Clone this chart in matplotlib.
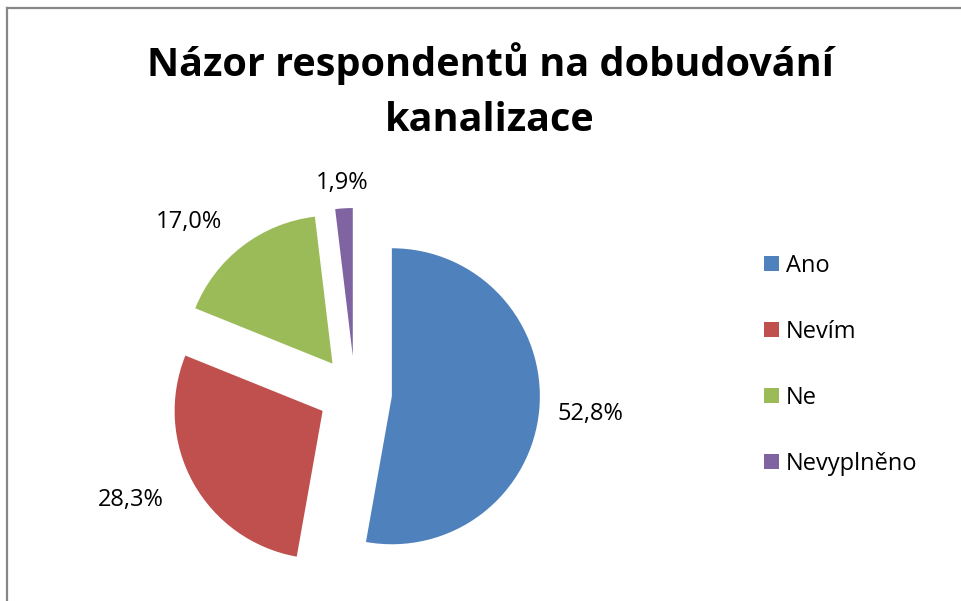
import numpy as np
import matplotlib
matplotlib.use("Agg")
import matplotlib.pyplot as plt
from matplotlib.lines import Line2D

kategorie = ["Ano", "Nevím", "Ne", "Nevyplněno"]
podil = [52.8, 28.3, 17.0, 1.9]
barvy = ["#4F81BD", "#C0504D", "#9BBB59", "#8064A2"]
popisky = ["52,8%", "28,3%", "17,0%", "1,9%"]
# vzdalenost popisku od stredu vysece (v polomerech) a posun uhlu (stupne, po smeru hodin)
vzdal_popisku = [1.35, 1.43, 1.36, 1.17]
posun_uhlu = [0, 4, -8, 0]

plt.rcParams["font.family"] = ["Open Sans", "DejaVu Sans"]

W, H = 962, 601
fig = plt.figure(figsize=(W / 100, H / 100), dpi=100)

# ramecek grafu (vpravo a dole oriznuty)
fig.add_artist(Line2D([7 / W, 1.0], [1 - 8 / H, 1 - 8 / H], color="#878787", lw=1.6))
fig.add_artist(Line2D([7 / W, 7 / W], [1 - 8 / H, 0.0], color="#878787", lw=1.6))

fig.text(490 / W, 1 - 91 / H, "Názor respondentů na dobudování\nkanalizace",
         ha="center", va="center", fontsize=28.5, fontweight="bold",
         linespacing=1.55)

# kolac: stred ~ (355, 393) px, polomer ~148 px
cx, cy, R, half = 355, 393, 148, 200
ax = fig.add_axes([(cx - half) / W, (H - cy - half) / H, 2 * half / W, 2 * half / H])
wedges, _ = ax.pie(podil, colors=barvy, startangle=90, counterclock=False,
                   explode=[0.25] * 4, wedgeprops=dict(linewidth=0))
lim = half / R
ax.set_xlim(-lim, lim)
ax.set_ylim(-lim, lim)
ax.set_aspect("auto")
ax.axis("off")

for w, txt, d, p in zip(wedges, popisky, vzdal_popisku, posun_uhlu):
    ang = np.deg2rad((w.theta1 + w.theta2) / 2 - p)
    x0, y0 = w.center
    ax.text(x0 + d * np.cos(ang), y0 + d * np.sin(ang), txt,
            ha="center", va="center", fontsize=17)

fig.legend(wedges, kategorie, loc="center left",
           bbox_to_anchor=(764 / W, 1 - 365 / H), frameon=False,
           fontsize=17, handlelength=0.62, handleheight=0.62,
           handletextpad=0.3, labelspacing=1.78, borderpad=0,
           borderaxespad=0)

fig.savefig("out.png", dpi=100)
